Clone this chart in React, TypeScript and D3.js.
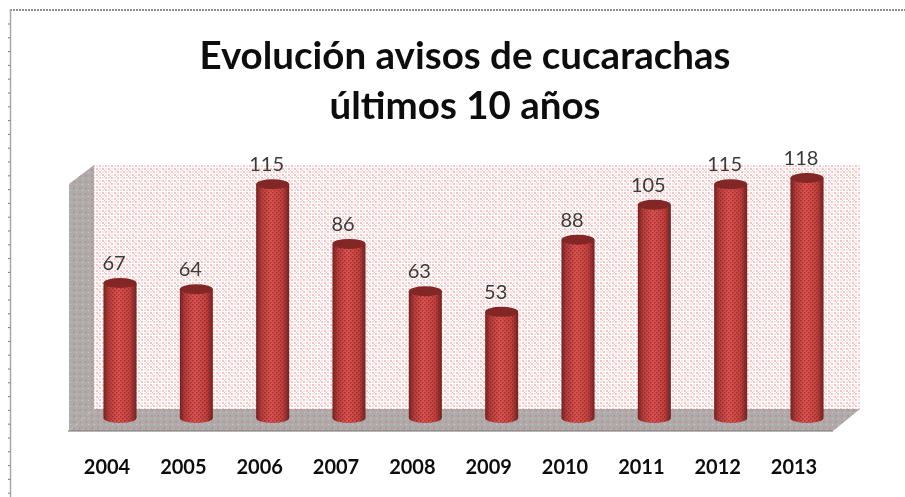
import React from 'react';
import * as d3 from 'd3';

const years = ['2004', '2005', '2006', '2007', '2008', '2009', '2010', '2011', '2012', '2013'];
const avisos = [67, 64, 115, 86, 63, 53, 88, 105, 115, 118];
const titleLines = ['Evolución avisos de cucarachas', 'últimos 10 años'];

const width = 905;
const height = 497;
const font = 'Lato, "Open Sans", sans-serif';

// box of the fake 3d plot
const wall = { x0: 94, x1: 860, y0: 165, y1: 409 };
const front = { x0: 69, x1: 833, y0: 184, y1: 431 };

const x = d3.scalePoint<string>().domain(years).range([120, 807]);
const y = d3.scaleLinear().domain([0, 118]).range([421, 178]);
const barW = 33;
const ry = 5;
const footY = 418;

const poly = (pts: [number, number][]) => d3.line()(pts) + 'Z';
const frameTicks = d3.range(24, height, 13.8);

export default function App() {
  return (
    <svg width={width} height={height} style={{ position: 'absolute', left: 0, top: 0, background: '#fff' }}>
      <defs>
        <pattern id="wallDots" width="6" height="6" patternUnits="userSpaceOnUse">
          <rect width="6" height="6" fill="#fff" />
          <path d="M0 0h2v2h-2zM3 3h2v2h-2z" fill="#f9c4c4" />
          <path d="M3 0h2v2h-2zM0 3h2v2h-2z" fill="#fbe3e3" />
          <rect x="2" y="2" width="1" height="1" fill="#d9c4c4" />
        </pattern>
        <pattern id="greyDots" width="6" height="6" patternUnits="userSpaceOnUse">
          <rect width="6" height="6" fill="#aeabab" />
          <rect x="1" y="1" width="2" height="2" fill="#c09090" />
          <rect x="4" y="4" width="1" height="1" fill="#cfcaca" />
        </pattern>
        <pattern id="barDots" width="4" height="4" patternUnits="userSpaceOnUse">
          <rect x="0" y="0" width="1.5" height="1.5" fill="#5a2a2a" opacity="0.55" />
          <rect x="2" y="2" width="1.5" height="1.5" fill="#5a2a2a" opacity="0.55" />
        </pattern>
        <linearGradient id="barBody" x1="0" x2="1" y1="0" y2="0">
          <stop offset="0" stopColor="#7a2020" />
          <stop offset="0.15" stopColor="#b83a38" />
          <stop offset="0.45" stopColor="#e2514e" />
          <stop offset="0.8" stopColor="#c83f3c" />
          <stop offset="1" stopColor="#772020" />
        </linearGradient>
        <filter id="soft" x="-5%" y="-5%" width="110%" height="110%">
          <feGaussianBlur stdDeviation="0.7" />
        </filter>
      </defs>

      <g filter="url(#soft)">
        {/* worksheet frame */}
        <path d={`M10 10H${width}`} stroke="#8f8f8f" strokeWidth={2} strokeDasharray="2 1" />
        <path d={`M10.5 10V${height}`} stroke="#a8a8a8" strokeWidth={1.5} />
        {frameTicks.map(t => (
          <path key={t} d={`M8 ${t}h2`} stroke="#777" strokeWidth={1} />
        ))}

        {/* walls and floor */}
        <rect x={wall.x0} y={wall.y0} width={wall.x1 - wall.x0} height={wall.y1 - wall.y0} fill="url(#wallDots)" />
        <path
          d={poly([[front.x0, front.y0], [wall.x0, wall.y0], [wall.x0, wall.y1], [front.x0, front.y1]])}
          fill="url(#greyDots)"
        />
        <path
          d={poly([[front.x0, front.y1], [wall.x0, wall.y1], [wall.x1, wall.y1], [front.x1, front.y1]])}
          fill="url(#greyDots)"
        />
        <path d={`M${front.x0 - 1} ${front.y1}H${front.x1}`} stroke="#6f6f6f" strokeWidth={1.2} />

        {/* cylinders */}
        {years.map((yr, i) => {
          const cx = x(yr) as number;
          const top = y(avisos[i]);
          const body = `M${cx - barW / 2} ${top}V${footY}A${barW / 2} ${ry} 0 0 0 ${cx + barW / 2} ${footY}V${top}Z`;
          return (
            <g key={yr}>
              <path d={body} fill="url(#barBody)" />
              <path d={body} fill="url(#barDots)" />
              <ellipse cx={cx} cy={top} rx={barW / 2} ry={ry} fill="#832626" />
              <text x={cx - 6} y={top - 13} textAnchor="middle" fontFamily={font} fontSize={20} fill="#3a3a3a">
                {avisos[i]}
              </text>
              <text x={cx - 13} y={474} textAnchor="middle" fontFamily={font} fontSize={20} fontWeight={700} fill="#111">
                {yr}
              </text>
            </g>
          );
        })}

        {titleLines.map((line, i) => (
          <text
            key={line}
            x={465}
            y={69 + i * 50}
            textAnchor="middle"
            fontFamily={font}
            fontSize={38.5}
            fontWeight={700}
            fill="#111"
          >
            {line}
          </text>
        ))}
      </g>
    </svg>
  );
}
